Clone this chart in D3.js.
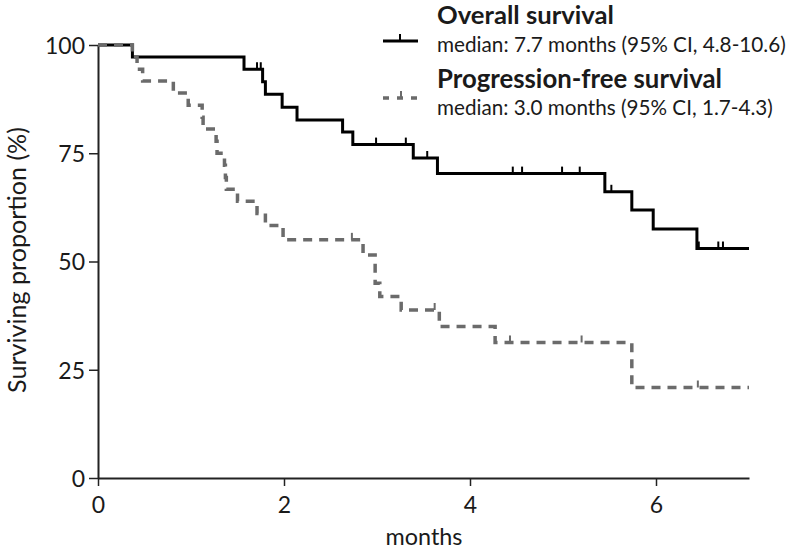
<!DOCTYPE html>
<html>
<head>
<meta charset="utf-8">
<script src="https://cdn.jsdelivr.net/npm/d3@7"></script>
<style>
  html, body { margin: 0; padding: 0; background: #fff; }
  svg { display: block; }
</style>
</head>
<body>
<svg id="chart" width="796" height="552"></svg>
<script>
// ---- data ----
const xTicks = [0, 2, 4, 6];
const yTicks = [0, 25, 50, 75, 100];

const osTimes = [0.37, 1.57, 1.77, 1.80, 1.98, 2.14, 2.63, 2.74, 3.39, 3.65, 5.45, 5.74, 5.97, 6.44];
const osSurv  = [97.2, 94.4, 91.5, 88.6, 85.6, 82.7, 79.9, 77.0, 73.9, 70.3, 66.1, 61.9, 57.5, 53.0];
const osCensor = [1.71, 1.75, 2.99, 3.31, 3.54, 4.46, 4.56, 4.99, 5.18, 5.52, 6.46, 6.67, 6.72];

const pfsTimes = [0.37, 0.42, 0.48, 0.81, 0.97, 1.12, 1.13, 1.27, 1.28, 1.36, 1.37, 1.38, 1.50, 1.71, 1.80, 1.99, 2.85, 2.98, 3.03, 3.26, 3.67, 4.27, 5.74];
const pfsSurv  = [97.2, 94.4, 91.7, 88.9, 86.1, 83.3, 80.6, 77.8, 75.0, 72.2, 69.4, 66.7, 63.9, 61.1, 58.3, 55.0, 51.5, 45.0, 41.9, 38.8, 35.0, 31.3, 20.9];
const pfsCensor = [2.73, 3.62, 4.43, 5.20, 6.45];

const tEnd = 7;

const legendTitles = ["Overall survival", "Progression-free survival"];
const legendMedians = ["median: 7.7 months (95% CI, 4.8-10.6)", "median: 3.0 months (95% CI, 1.7-4.3)"];

// ---- drawing ----
const svg = d3.select("#chart");
const FONT = "Lato, 'Open Sans', sans-serif";
const TXT = "#1a1a1a";

const x = d3.scaleLinear().domain([0, 7]).range([98, 749]);
const y = d3.scaleLinear().domain([0, 100]).range([478, 45]);

function stepPoints(times, surv) {
  const pts = [[0, 100]];
  times.forEach((t, i) => pts.push([t, surv[i]]));
  pts.push([tEnd, surv[surv.length - 1]]);
  return pts;
}
function survAt(times, surv, t) {
  let s = 100;
  for (let i = 0; i < times.length; i++) if (times[i] <= t) s = surv[i];
  return s;
}
function fit(sel, w) {
  const cw = sel.node().getComputedTextLength();
  const fs = parseFloat(sel.attr("font-size"));
  sel.attr("font-size", fs * w / cw);
}

const line = d3.line().x(d => x(d[0])).y(d => y(d[1])).curve(d3.curveStepAfter);

// axes
const xAxis = d3.axisBottom(x).tickValues(xTicks).tickFormat(d3.format("d"))
  .tickSize(8).tickSizeOuter(0).tickPadding(6);
const yAxis = d3.axisLeft(y).tickValues(yTicks).tickFormat(d3.format("d"))
  .tickSize(9).tickSizeOuter(0).tickPadding(4);

const gx = svg.append("g").attr("transform", `translate(0,${y(0)})`).call(xAxis);
const gy = svg.append("g").attr("transform", `translate(${x(0)},0)`).call(yAxis);
[gx, gy].forEach(g => {
  g.attr("font-family", FONT).attr("font-size", 23);
  g.select(".domain").attr("stroke", "#222").attr("stroke-width", 2);
  g.selectAll(".tick line").attr("stroke", "#222").attr("stroke-width", 1.5);
  g.selectAll(".tick text").attr("fill", TXT);
});
gx.selectAll(".tick text").attr("dy", "0.9em");
gy.selectAll(".tick text").attr("dy", "0.36em");

// axis titles
const yt = svg.append("text")
  .attr("transform", "translate(26,260) rotate(-90)")
  .attr("text-anchor", "middle")
  .attr("font-family", FONT).attr("font-size", 22).attr("fill", TXT)
  .text("Surviving proportion (%)");
fit(yt, 266);
const xt = svg.append("text")
  .attr("x", 424).attr("y", 545)
  .attr("text-anchor", "middle")
  .attr("font-family", FONT).attr("font-size", 22).attr("fill", TXT)
  .text("months");
fit(xt, 77);

// OS curve
svg.append("path")
  .attr("d", line(stepPoints(osTimes, osSurv)))
  .attr("fill", "none").attr("stroke", "#000").attr("stroke-width", 3);
svg.append("g").selectAll("line").data(osCensor).join("line")
  .attr("x1", d => x(d)).attr("x2", d => x(d))
  .attr("y1", d => y(survAt(osTimes, osSurv, d)))
  .attr("y2", d => y(survAt(osTimes, osSurv, d)) - 7)
  .attr("stroke", "#000").attr("stroke-width", 2);

// PFS curve
const PFS = "#6b6b6b";
svg.append("path")
  .attr("d", line(stepPoints(pfsTimes, pfsSurv)))
  .attr("fill", "none").attr("stroke", PFS).attr("stroke-width", 3.5)
  .attr("stroke-dasharray", "9,7");
svg.append("g").selectAll("line").data(pfsCensor).join("line")
  .attr("x1", d => x(d)).attr("x2", d => x(d))
  .attr("y1", d => y(survAt(pfsTimes, pfsSurv, d)))
  .attr("y2", d => y(survAt(pfsTimes, pfsSurv, d)) - 7)
  .attr("stroke", PFS).attr("stroke-width", 2);

// legend
const lg = svg.append("g");
lg.append("line").attr("x1", 383).attr("x2", 418).attr("y1", 41).attr("y2", 41)
  .attr("stroke", "#000").attr("stroke-width", 3);
lg.append("line").attr("x1", 400).attr("x2", 400).attr("y1", 41).attr("y2", 34)
  .attr("stroke", "#000").attr("stroke-width", 2);
lg.append("line").attr("x1", 383).attr("x2", 420).attr("y1", 98).attr("y2", 98)
  .attr("stroke", PFS).attr("stroke-width", 3.5).attr("stroke-dasharray", "6,8");
lg.append("line").attr("x1", 401).attr("x2", 401).attr("y1", 98).attr("y2", 91)
  .attr("stroke", PFS).attr("stroke-width", 2);

const t1 = lg.append("text").attr("x", 437).attr("y", 24).attr("font-family", FONT)
  .attr("font-weight", "bold").attr("font-size", 22).attr("fill", TXT).text(legendTitles[0]);
fit(t1, 177);
const m1 = lg.append("text").attr("x", 437).attr("y", 52).attr("font-family", FONT)
  .attr("font-size", 18).attr("fill", TXT).text(legendMedians[0]);
fit(m1, 349);
const t2 = lg.append("text").attr("x", 437).attr("y", 88).attr("font-family", FONT)
  .attr("font-weight", "bold").attr("font-size", 22).attr("fill", TXT).text(legendTitles[1]);
fit(t2, 285);
const m2 = lg.append("text").attr("x", 437).attr("y", 115).attr("font-family", FONT)
  .attr("font-size", 18).attr("fill", TXT).text(legendMedians[1]);
fit(m2, 336);
</script>
</body>
</html>
